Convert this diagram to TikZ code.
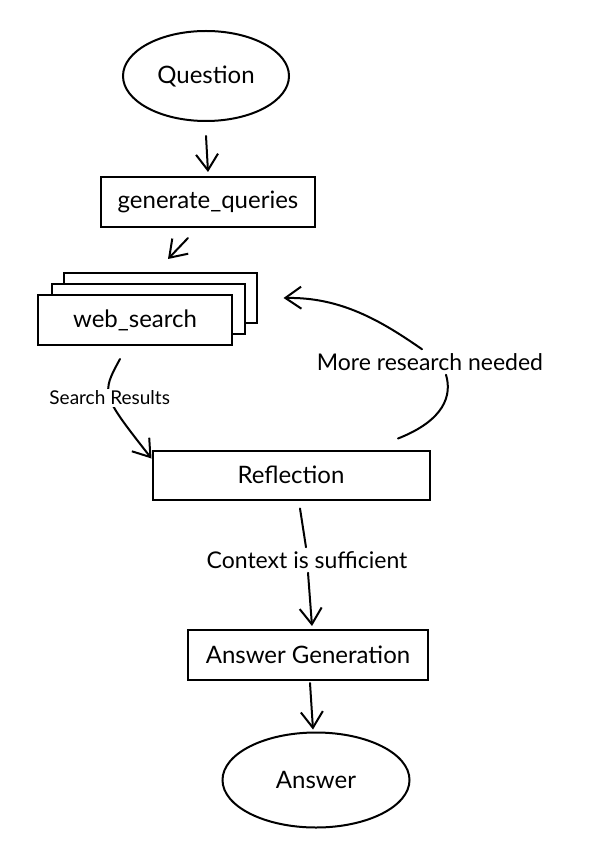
\documentclass[tikz,border=0pt]{standalone}
\usepackage{fontspec}
\setmainfont{Lato}
\usepackage{tikz}
\usetikzlibrary{arrows.meta,shapes.geometric}

\begin{document}
\begin{tikzpicture}[x=1pt,y=-1pt]
	\tikzstyle{box}=[rectangle,draw=black,line width=2pt,fill=white,minimum height=50pt,inner sep=0pt,font=\fontsize{24}{28}\selectfont]
	\tikzstyle{oval}=[ellipse,draw=black,line width=2pt,inner sep=0pt,font=\fontsize{24}{28}\selectfont]
	\tikzstyle{lbl}=[inner sep=2pt,font=\fontsize{23}{27}\selectfont]
	\tikzstyle{link}=[line width=2pt,line cap=round]
	\tikzstyle{edge}=[link,-{Straight Barb[length=16pt,width=22pt]}]
	\useasboundingbox (0,0) rectangle (596,858);
	\node[oval,minimum width=166pt,minimum height=90pt] (question) at (206,76) {Question};
	\node[box,minimum width=214pt] (gq) at (208,202) {generate\_queries};
	\node[box,minimum width=193pt] (webc) at (160,298) {};
	\node[box,minimum width=193pt] (webb) at (148,309) {};
	\node[box,minimum width=194pt] (weba) at (135,320) {web\_search};
	\node[box,minimum width=277pt,minimum height=49pt] (refl) at (291,475) {Reflection};
	\node[box,minimum width=240pt] (ag) at (308,655) {Answer Generation};
	\node[oval,minimum width=187pt,minimum height=95pt] (answer) at (316,780) {Answer};
	\node[lbl] (more) at (430,362) {More research needed};
	\node[lbl] (ctx) at (307,560) {Context is sufficient};
	\draw[edge] ([yshift=-14pt]question.south) -- ([yshift=4pt]gq.north);
	\draw[edge] ([xshift=-20pt,yshift=-10pt]gq.south) -- ([xshift=8pt,yshift=13pt]webc.north);
	\draw[edge] ([xshift=-15pt,yshift=-13pt]weba.south) .. controls (101,394) .. ([yshift=-9pt]refl.north west)
		node[pos=0.5,fill=white,inner sep=2pt,font=\fontsize{19}{22}\selectfont] {Search Results};
	\draw[link] ([xshift=107pt,yshift=11pt]refl.north) .. controls (445,420) and (452,395) .. ([xshift=16pt,yshift=-2pt]more.south);
	\draw[edge] ([xshift=-8pt,yshift=2pt]more.north) .. controls (380,320) and (340,297) .. ([xshift=26pt]webc.east);
	\draw[link] ([xshift=9pt,yshift=-8pt]refl.south) -- ([xshift=-1pt,yshift=2pt]ctx.north);
	\draw[edge] ([xshift=1pt,yshift=-2pt]ctx.south) -- ([xshift=4pt,yshift=3pt]ag.north);
	\draw[edge] ([xshift=2pt,yshift=-2pt]ag.south) -- ([xshift=-3pt,yshift=2pt]answer.north);
\end{tikzpicture}
\end{document}
